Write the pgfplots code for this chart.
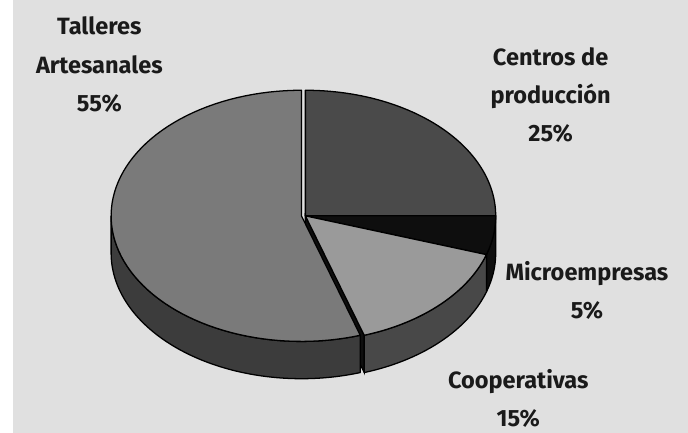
\documentclass[border=0pt]{standalone}
\usepackage{pgfplots}
\usepackage{pgfplotstable}
\usepackage{fontspec}
\setmainfont{Fira Sans}
\pgfplotsset{compat=1.18}

\definecolor{bg}{HTML}{E0E0E0}
\definecolor{cCentros}{HTML}{4A4A4A}
\definecolor{cMicro}{HTML}{0E0E0E}
\definecolor{cCoop}{HTML}{9A9A9A}
\definecolor{cTall}{HTML}{7A7A7A}
\definecolor{sCoop}{HTML}{484848}
\definecolor{sTall}{HTML}{3C3C3C}
\definecolor{txt}{HTML}{1A1A1A}

\pgfplotstableread{
name value
Centros 25
Micro 5
Coop 15
Talleres 55
}\piedata

% top wedge: #1 start angle, #2 end angle, #3 dx, #4 colour
\newcommand\topwedge[4]{%
 \addplot[fill=#4, draw=black, line width=1.3pt, line join=round,
   variable=\t, samples at={0,1,...,81}]
  ({298+(#3)+(\t<80.5)*194*cos((#1)+((#2)-(#1))*\t/80)},
   {221+(\t<80.5)*128*sin((#1)+((#2)-(#1))*\t/80)}) -- cycle;
}
% side band: #1 start, #2 end, #3 dx, #4 colour
\newcommand\sideband[4]{%
 \addplot[fill=#4, draw=black, line width=1.3pt, line join=round,
   variable=\t, samples at={0,1,...,201}]
  ({298+(#3)+194*cos( (\t<100.5) ? ((#1)+((#2)-(#1))*\t/100) : ((#2)-((#2)-(#1))*(\t-101)/100) )},
   {221+128*sin( (\t<100.5) ? ((#1)+((#2)-(#1))*\t/100) : ((#2)-((#2)-(#1))*(\t-101)/100) ) - (\t>100.5)*38}) -- cycle;
}

\begin{document}
\pgfplotstablegetelem{0}{value}\of\piedata \let\vA\pgfplotsretval
\pgfplotstablegetelem{1}{value}\of\piedata \let\vB\pgfplotsretval
\pgfplotstablegetelem{2}{value}\of\piedata \let\vC\pgfplotsretval
\pgfplotstablegetelem{3}{value}\of\piedata \let\vD\pgfplotsretval
\pgfmathsetmacro\aZ{90}
\pgfmathsetmacro\aA{\aZ-3.6*\vA}
\pgfmathsetmacro\aB{\aA-3.6*\vB}
\pgfmathsetmacro\aC{\aB-3.6*\vC}
\pgfmathsetmacro\aD{\aC-3.6*\vD}
\begin{tikzpicture}
\begin{axis}[scale only axis, width=688pt, height=441pt,
  xmin=0, xmax=688, ymin=0, ymax=441, hide axis, clip=false]
 \addplot[fill=bg, draw=none] coordinates {(0,0) (688,0) (688,441) (0,441)} -- cycle;
 % cut face of Cooperativas
 \addplot[fill=cMicro, draw=black, line width=1.3pt] coordinates
   {(298,221) (358,99.3) (358,61.3) (298,183)} -- cycle;
 % side bands
 \sideband{\aB}{\aA}{0}{cMicro}
 \sideband{\aC}{\aB}{0}{sCoop}
 \sideband{-180}{\aC}{-4}{sTall}
 % top faces
 \topwedge{\aZ}{\aA}{0}{cCentros}
 \topwedge{\aA}{\aB}{0}{cMicro}
 \topwedge{\aB}{\aC}{0}{cCoop}
 \topwedge{\aC}{\aD}{-4}{cTall}
 % labels
 \node[align=center, text=txt, font=\fontsize{24}{39}\selectfont\bfseries]
   at (axis cs:88,375) {Talleres\\Artesanales\\55\%};
 \node[align=center, text=txt, font=\fontsize{24}{39}\selectfont\bfseries]
   at (axis cs:548,344) {Centros de\\producción\\25\%};
 \node[align=center, text=txt, font=\fontsize{24}{39}\selectfont\bfseries]
   at (axis cs:585,145) {Microempresas\\5\%};
 \node[align=center, text=txt, font=\fontsize{24}{39}\selectfont\bfseries]
   at (axis cs:515,35) {Cooperativas\\15\%};
\end{axis}
\end{tikzpicture}
\end{document}
